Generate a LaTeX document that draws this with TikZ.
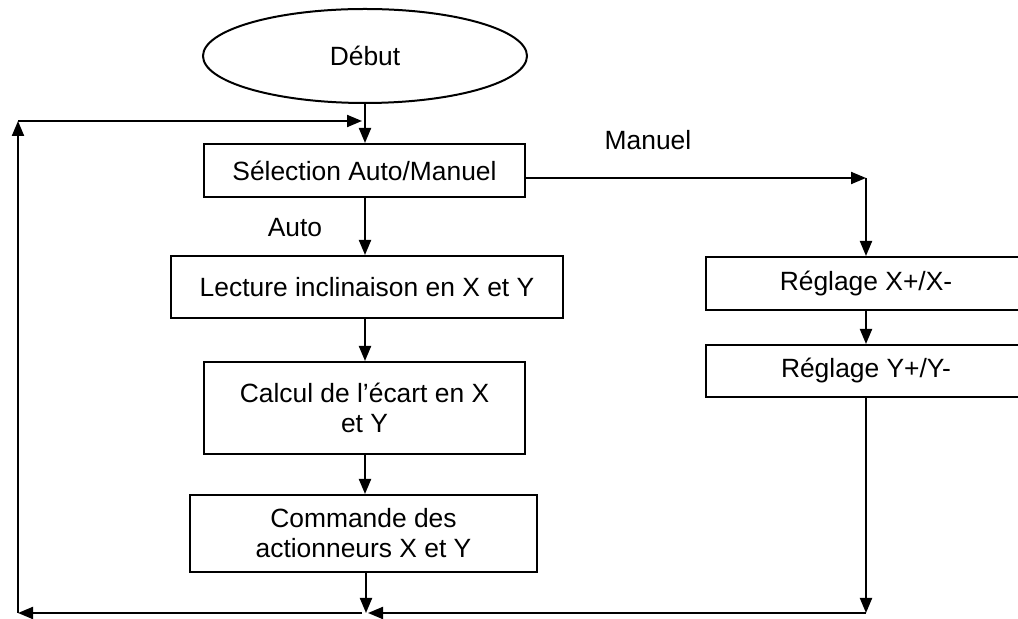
\documentclass[tikz,border=0pt]{standalone}
\usepackage{fontspec}
\setmainfont{Liberation Sans}
\usetikzlibrary{shapes.geometric,arrows.meta}
\begin{document}
\begin{tikzpicture}[x=0.5pt,y=-0.5pt,
  txt/.style={font=\fontsize{13.2}{15}\selectfont},
  box/.style={txt, draw, line width=1pt, rectangle, inner sep=0pt, align=center},
  arr/.style={line width=1pt, -{Triangle[length=7.5pt,width=6pt]}},
  ln/.style={line width=1pt}]
\useasboundingbox (0,0) rectangle (1018,619);
\node[txt, draw, ellipse, line width=1pt, minimum width=162pt, minimum height=47pt, inner sep=0pt] (debut) at (365,56) {Début};
\node[box, minimum width=160.5pt, minimum height=26.5pt] (sel) at (364.5,170.5) {Sélection Auto/Manuel};
\node[box, minimum width=196pt, minimum height=31pt] (lect) at (367,287) {Lecture inclinaison en X et Y};
\node[box, minimum width=160.5pt, minimum height=46pt] (calc) at (364.5,408) {Calcul de l’écart en X\\et Y};
\node[box, minimum width=173.5pt, minimum height=38.5pt] (cmd) at (363.5,533.5) {Commande des\\actionneurs X et Y};
\node[box, minimum width=160pt, minimum height=26.5pt] (rx) at (866,283.5) {Réglage X+/X-};
\node[box, minimum width=160pt, minimum height=26pt] (ry) at (866,371) {Réglage Y+/Y-};
\node[txt] (auto) at (295,228) {Auto};
\node[txt] (manuel) at (648,140) {Manuel};
\coordinate (TL) at (18,121);
\coordinate (TM) at (362,121);
\coordinate (BL) at (18,613);
\coordinate (BM) at (366,613);
\coordinate (BR) at (866,613);
\coordinate (M1) at (866,178);
% main column
\draw[arr] (debut.south) -- (debut.south |- sel.north);
\draw[arr] (sel.south -| debut.south) -- (lect.north -| debut.south);
\draw[arr] (lect.south -| debut.south) -- (calc.north -| debut.south);
\draw[arr] (calc.south -| debut.south) -- (cmd.north -| debut.south);
\draw[arr] (cmd.south -| BM) -- (BM);
% manual branch
\draw[arr] (M1 -| sel.east) -- (M1);
\draw[arr] (M1) -- (rx.north);
\draw[arr] (rx.south) -- (ry.north);
\draw[arr] (ry.south) -- (BR);
% return loop
\draw[arr] (BR) -- ([xshift=1pt]BM);
\draw[arr] ([xshift=-2pt]BM) -- (BL);
\draw[arr] (BL) -- (TL);
\draw[arr] (TL) -- (TM);
\end{tikzpicture}
\end{document}
